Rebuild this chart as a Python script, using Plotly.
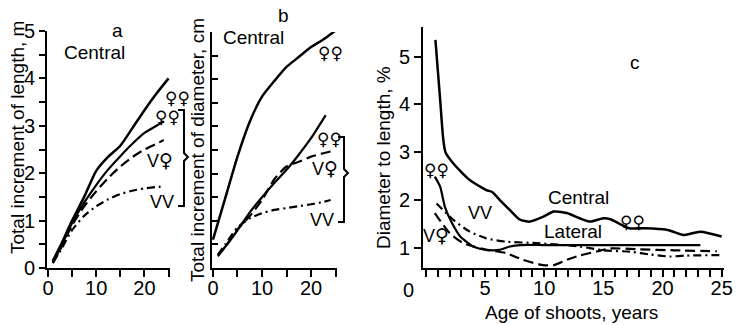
import plotly.graph_objects as go

W, H = 737, 325

# ---------------- Panel a: total increment of length (m) ----------------
a_central_x = [1, 2.5, 5, 7.5, 10, 12.5, 15, 17.5, 20, 22.5, 25]
a_central_y = [0.15, 0.45, 1.0, 1.5, 2.05, 2.35, 2.58, 2.95, 3.33, 3.68, 4.0]
a_ff_x = [1, 2.5, 5, 7.5, 10, 12.5, 15, 17.5, 20, 22.5, 24]
a_ff_y = [0.12, 0.4, 0.95, 1.38, 1.75, 2.08, 2.36, 2.62, 2.85, 3.0, 3.1]
a_vf_x = [1, 2.5, 5, 7.5, 10, 12.5, 15, 17.5, 20, 22.5, 24]
a_vf_y = [0.1, 0.38, 0.9, 1.3, 1.62, 1.9, 2.14, 2.34, 2.5, 2.62, 2.7]
a_vv_x = [1, 2.5, 5, 7.5, 10, 12.5, 15, 17.5, 20, 22.5, 24]
a_vv_y = [0.12, 0.35, 0.8, 1.1, 1.3, 1.45, 1.56, 1.63, 1.68, 1.71, 1.72]

# ---------------- Panel b: total increment of diameter (cm) ----------------
b_central_x = [0, 1, 2.5, 5, 7.5, 10, 12.5, 15, 17.5, 20, 22.5, 25]
b_central_y = [0.6, 0.95, 1.48, 2.36, 3.1, 3.63, 3.96, 4.26, 4.47, 4.68, 4.84, 5.03]
b_ff_x = [1, 2.5, 5, 7.5, 10, 12.5, 15, 17.5, 20, 23]
b_ff_y = [0.28, 0.45, 0.8, 1.18, 1.5, 1.8, 2.08, 2.4, 2.75, 3.24]
b_vf_x = [1, 2.5, 5, 7.5, 10, 12.5, 15, 17.5, 20, 22.5, 24]
b_vf_y = [0.25, 0.45, 0.82, 1.1, 1.44, 1.88, 2.15, 2.25, 2.36, 2.43, 2.47]
b_vv_x = [1, 2.5, 5, 7.5, 10, 12.5, 15, 17.5, 20, 22.5, 24]
b_vv_y = [0.28, 0.5, 0.86, 1.05, 1.16, 1.23, 1.27, 1.31, 1.35, 1.4, 1.44]

# ---------------- Panel c: diameter to length (%) ----------------
c_central_x = [0.8, 1.2, 1.45, 1.65, 2.3, 3.7, 5.1, 5.6, 6.25, 7.1, 7.95, 8.8, 9.9,
               10.8, 11.9, 13.0, 13.9, 15.0, 15.6, 16.4, 17.2, 18.5, 20.35, 21.0,
               21.75, 23.2, 25.0]
c_central_y = [5.35, 4.1, 3.3, 3.0, 2.77, 2.42, 2.21, 2.17, 2.0, 1.79, 1.59, 1.55, 1.65,
               1.76, 1.73, 1.62, 1.55, 1.62, 1.6, 1.5, 1.41, 1.41, 1.38, 1.33,
               1.27, 1.34, 1.24]
c_lat_x = [0.75, 1.2, 1.6, 2.2, 2.9, 4.0, 5.1, 6.2, 7.1, 8.0, 10, 15, 20, 23.2]
c_lat_y = [2.49, 2.28, 1.86, 1.52, 1.24, 1.03, 0.96, 0.96, 1.03, 1.06, 1.06, 1.06, 1.06, 1.06]
c_vf_x = [0.75, 2.0, 3.15, 5.1, 6.8, 8.2, 9.9, 10.8, 11.9, 13.0, 14.5, 15.6, 18, 21, 24.6]
c_vf_y = [1.73, 1.31, 1.10, 0.96, 0.89, 0.75, 0.64, 0.64, 0.75, 0.84, 0.93, 0.99, 0.97, 0.95, 0.93]
c_vv_x = [0.9, 2.3, 3.7, 5.1, 6.8, 9.35, 13, 15, 17.3, 19, 20.6, 22, 25.1]
c_vv_y = [1.93, 1.59, 1.34, 1.2, 1.13, 1.10, 1.03, 0.95, 0.92, 0.86, 0.82, 0.84, 0.85]

ab_xticks = [0, 5, 10, 15, 20, 25]
ab_xtext = ["0", "", "10", "", "20", ""]
c_xticks = [5, 10, 15, 20, 25]

DASH = "10px,5px"
DASHDOT = "8px,4px,2px,4px"
FONT = "Arial, Liberation Sans, DejaVu Sans, sans-serif"


def px(x):
    return x / W


def py(y):
    return 1 - y / H


fig = go.Figure()


def add_line(xs, ys, ax, dash="solid", width=2.2):
    fig.add_trace(go.Scatter(x=xs, y=ys, mode="lines", xaxis=ax[0], yaxis=ax[1],
                             line=dict(color="black", width=width, dash=dash,
                                       shape="spline", smoothing=0.6),
                             showlegend=False, hoverinfo="skip"))


add_line(a_central_x, a_central_y, ("x", "y"), width=2.5)
add_line(a_ff_x, a_ff_y, ("x", "y"))
add_line(a_vf_x, a_vf_y, ("x", "y"), DASH)
add_line(a_vv_x, a_vv_y, ("x", "y"), DASHDOT)

add_line(b_central_x, b_central_y, ("x2", "y2"), width=2.5)
add_line(b_ff_x, b_ff_y, ("x2", "y2"))
add_line(b_vf_x, b_vf_y, ("x2", "y2"), DASH)
add_line(b_vv_x, b_vv_y, ("x2", "y2"), DASHDOT)

add_line(c_central_x, c_central_y, ("x3", "y3"), width=2.5)
add_line(c_lat_x, c_lat_y, ("x3", "y3"))
add_line(c_vf_x, c_vf_y, ("x3", "y3"), DASH)
add_line(c_vv_x, c_vv_y, ("x3", "y3"), DASHDOT)

axcommon = dict(showline=True, linecolor="black", linewidth=2, showgrid=False,
                zeroline=False, tickcolor="black", tickwidth=2, automargin=False,
                tickfont=dict(family=FONT, size=20, color="black"))

fig.update_layout(
    template="none",
    width=W, height=H, margin=dict(l=0, r=0, t=0, b=0, pad=0, autoexpand=False),
    paper_bgcolor="white", plot_bgcolor="white",
    font=dict(family=FONT, color="black"),
    xaxis=dict(domain=[px(47), px(170)], range=[-0.2, 25.3], anchor="y",
               tickvals=ab_xticks, ticktext=ab_xtext, ticks="outside", ticklen=7,
               ticklabelstandoff=-6, **axcommon),
    yaxis=dict(domain=[py(268), py(31)], range=[0, 5], anchor="x",
               tickvals=[0, 1, 2, 3, 4, 5], ticks="outside", ticklen=6,
               minor=dict(dtick=0.5, ticks="outside", ticklen=6, tickcolor="black", tickwidth=2),
               **axcommon),
    xaxis2=dict(domain=[px(212), px(337)], range=[-0.2, 25.3], anchor="y2",
                tickvals=ab_xticks, ticktext=ab_xtext, ticks="outside", ticklen=7,
                ticklabelstandoff=-6, **axcommon),
    yaxis2=dict(domain=[py(268), py(32)], range=[0, 5], anchor="x2",
                dtick=0.5, tick0=0, ticks="inside", ticklen=6, showticklabels=False,
                **axcommon),
    xaxis3=dict(domain=[px(423), px(724)], range=[-0.25, 25.2], anchor="y3",
                tickvals=c_xticks, ticks="outside", ticklen=7, ticklabelstandoff=-6,
                minor=dict(dtick=1, tick0=0, ticks="outside", ticklen=7, tickcolor="black", tickwidth=2),
                **axcommon),
    yaxis3=dict(domain=[py(268), py(27)], range=[0.58, 5.62], anchor="x3",
                tickvals=[1, 2, 3, 4, 5], ticks="outside", ticklen=7,
                **axcommon),
)

ann = []


def txt(x, y, s, size=19, angle=0, fam=FONT):
    ann.append(dict(x=px(x), y=py(y), xref="paper", yref="paper", text=s,
                    showarrow=False, textangle=angle, xanchor="center", yanchor="middle",
                    font=dict(family=fam, size=size, color="black")))


SYM = "DejaVu Sans, sans-serif"
VF = "V<span style='font-family:DejaVu Sans;font-size:19px'>♀</span>"
# axis titles
txt(17, 138, "Total increment of length, m", 19, -90)
txt(197, 150, "Total increment of diameter, cm", 19, -90)
txt(383, 158, "Diameter to length, %", 19, -90)
txt(571, 312, "Age of shoots, years", 19)
txt(408, 290, "0", 20)

# panel a
txt(117, 30, "a", 19)
txt(94, 52, "Central", 19)
txt(177, 98, "♀♀", 17, fam=SYM)
txt(167, 117, "♀♀", 17, fam=SYM)
txt(160, 160, VF, 18)
txt(162, 202, "VV", 18)

# panel b
txt(283, 15, "b", 19)
txt(253, 38, "Central", 19)
txt(330, 53, "♀♀", 17, fam=SYM)
txt(329, 139, "♀♀", 17, fam=SYM)
txt(325, 168, VF, 18)
txt(322, 220, "VV", 18)

# panel c
txt(635, 63, "c", 19)
txt(578, 197, "Central", 19)
txt(573, 232, "Lateral", 19)
txt(480, 213, "VV", 18)
txt(436, 235, VF, 18)
txt(436, 170, "♀♀", 17, fam=SYM)
txt(632, 222, "♀♀", 17, fam=SYM)

fig.update_layout(annotations=ann)


def brace(x0, xm, y0, ym, y1):
    pts = [(x0, y0), (xm - 4, y0), (xm - 4, y0 + 4), (xm - 4, ym - 4), (xm, ym),
           (xm - 4, ym + 4), (xm - 4, y1 - 4), (xm - 4, y1), (x0, y1)]
    d = "M " + " L ".join(f"{px(a):.5f},{py(b):.5f}" for a, b in pts)
    return dict(type="path", path=d, xref="paper", yref="paper",
                line=dict(color="black", width=2))


fig.update_layout(shapes=[brace(178, 188, 110, 157, 206), brace(338, 348, 137, 173, 222)])

fig.write_html("out.html")
